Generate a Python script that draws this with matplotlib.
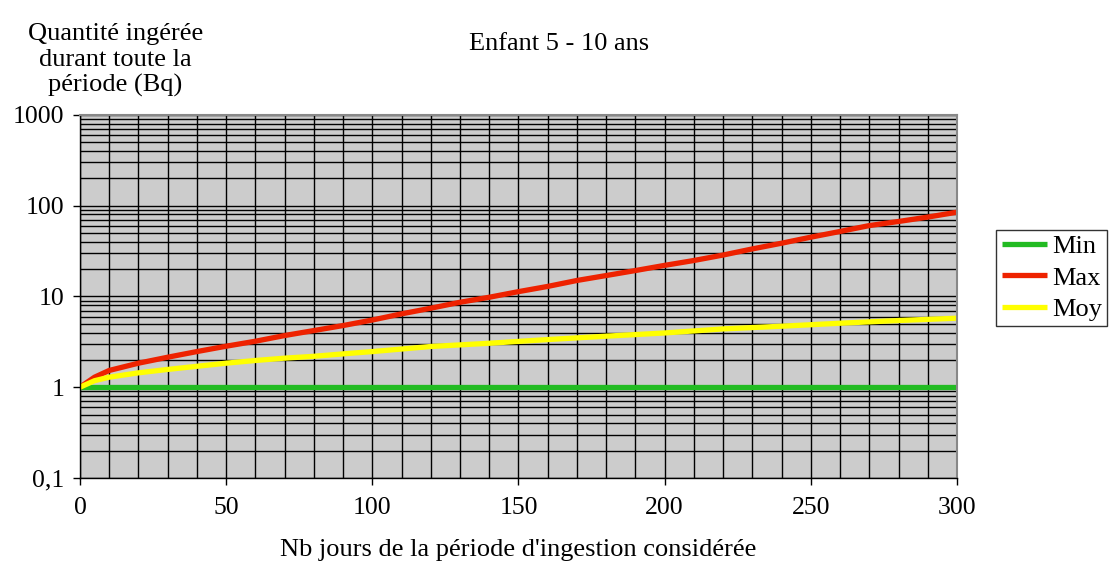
import numpy as np
import matplotlib.pyplot as plt
from matplotlib.ticker import FixedLocator, LogLocator, NullFormatter

plt.rcParams['font.family'] = ['Liberation Serif', 'DejaVu Serif']

# Quantité ingérée (Bq) selon la durée de la période (jours)
jours_min = [0, 300]
q_min = [1, 1]

jours_max = [0, 5, 10, 20, 30, 40, 50, 60, 70, 80, 90, 100, 110, 120, 130, 140, 150,
             160, 170, 180, 190, 200, 210, 220, 230, 240, 250, 260, 270, 280, 290, 300]
q_max = [1, 1.29, 1.53, 1.84, 2.14, 2.47, 2.83, 3.21, 3.71, 4.21, 4.78, 5.5, 6.43, 7.42,
         8.63, 9.8, 11.3, 12.9, 15.0, 17.0, 19.3, 22.0, 24.9, 28.6, 33.4, 38.6, 45, 52,
         60.4, 67, 74.9, 84.8]

jours_moy = [0, 5, 10, 20, 30, 40, 50, 60, 70, 80, 90, 100, 120, 140, 160, 180, 200,
             220, 240, 260, 280, 300]
q_moy = [1, 1.18, 1.29, 1.44, 1.57, 1.70, 1.84, 1.97, 2.09, 2.19, 2.33, 2.47, 2.81, 3.05,
         3.35, 3.65, 3.96, 4.39, 4.70, 5.07, 5.43, 5.76]

yticks = [0.1, 1, 10, 100, 1000]
ytick_labels = ['0,1', '1', '10', '100', '1000']
xticks = [0, 50, 100, 150, 200, 250, 300]

fig = plt.figure(figsize=(11.15, 5.62), dpi=100)
ax = fig.add_axes([0.0717, 0.1495, 0.7866, 0.6460])
ax.set_facecolor('#cccccc')

ax.plot(jours_min, q_min, color='#22bb22', lw=3.8, label='Min', solid_capstyle='butt')
ax.plot(jours_max, q_max, color='#ee2200', lw=3.8, label='Max', solid_capstyle='butt')
ax.plot(jours_moy, q_moy, color='#ffff00', lw=3.8, label='Moy', solid_capstyle='butt')

ax.set_yscale('log')
ax.set_xlim(0, 300)
ax.set_ylim(0.1, 1000)

ax.set_xticks(xticks)
ax.set_xticklabels([str(t) for t in xticks])
ax.xaxis.set_minor_locator(FixedLocator(np.arange(0, 301, 10)))
ax.set_yticks(yticks)
ax.set_yticklabels(ytick_labels)
ax.yaxis.set_minor_locator(LogLocator(base=10, subs=np.arange(2, 10)))
ax.yaxis.set_minor_formatter(NullFormatter())

ax.grid(which='both', color='black', lw=1.0)
ax.set_axisbelow(True)
ax.tick_params(which='major', direction='out', length=5, width=1, labelsize=18.5, pad=6)
ax.tick_params(which='minor', length=0)
ax.tick_params(axis='x', pad=9)
for side in ['top', 'right']:
    ax.spines[side].set_color('#888888')
    ax.spines[side].set_linewidth(1.5)
for side in ['left', 'bottom']:
    ax.spines[side].set_color('black')
    ax.spines[side].set_linewidth(1)

fig.text(0.501, 0.922, 'Enfant 5 - 10 ans', ha='center', va='center', fontsize=19)
fig.text(0.1035, 0.893, 'Quantité ingérée\ndurant toute la\npériode (Bq)', ha='center',
         va='center', fontsize=19, linespacing=1.2)
fig.text(0.465, 0.022, "Nb jours de la période d'ingestion considérée", ha='center',
         va='center', fontsize=19)

leg = ax.legend(loc='center left', bbox_to_anchor=(1.045, 0.551), fontsize=19, frameon=True,
                fancybox=False, edgecolor='black', handlelength=1.7, handletextpad=0.2,
                labelspacing=0.3, borderpad=0.2, borderaxespad=0)
leg.get_frame().set_linewidth(1)

fig.savefig('out.png', dpi=100)
